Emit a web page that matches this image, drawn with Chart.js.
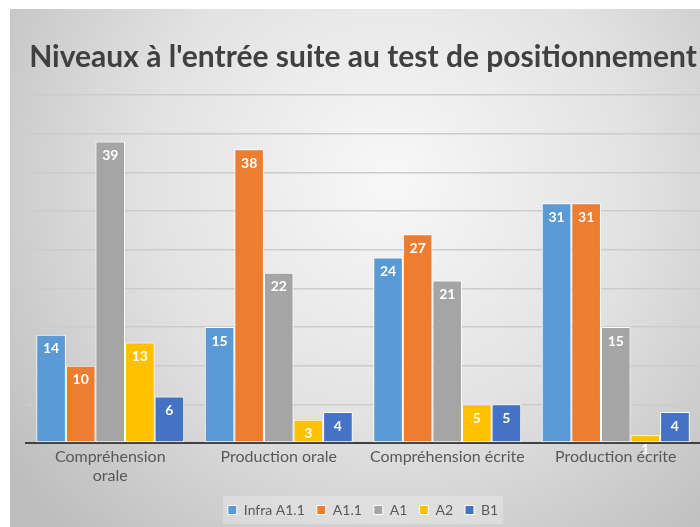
<!DOCTYPE html>
<html>
<head>
<meta charset="utf-8">
<script src="https://cdn.jsdelivr.net/npm/chart.js@4/dist/chart.umd.min.js"></script>
<style>
  html, body { margin: 0; padding: 0; background: #fff; }
  canvas { display: block; }
</style>
</head>
<body>
<canvas id="chart" width="700" height="527"></canvas>
<script>
  // data
  const categories = [["Compréhension", "orale"], "Production orale", "Compréhension écrite", "Production écrite"];
  const seriesNames = ["Infra A1.1", "A1.1", "A1", "A2", "B1"];
  const infraA11 = [14, 15, 24, 31];
  const a11 = [10, 38, 27, 31];
  const a1 = [39, 22, 21, 15];
  const a2 = [13, 3, 5, 1];
  const b1 = [6, 4, 5, 4];
  const colors = ["#5b9bd5", "#ed7d31", "#a5a5a5", "#ffc000", "#4472c4"];

  const FONT = "Lato, 'Open Sans', sans-serif";

  // grey radial background, white margin top/left
  const backgroundPlugin = {
    id: "bg",
    beforeDraw(chart) {
      var ctx = chart.ctx;
      ctx.save();
      ctx.fillStyle = "#ffffff";
      ctx.fillRect(0, 0, chart.width, chart.height);
      var g = ctx.createRadialGradient(390, 180, 10, 390, 180, 480);
      g.addColorStop(0, "#f7f7f7");
      g.addColorStop(0.5, "#e2e2e2");
      g.addColorStop(1, "#bdbdbd");
      ctx.fillStyle = g;
      ctx.fillRect(10, 9, chart.width - 10, chart.height - 9);

      // lighter box behind legend items only
      var lg = chart.legend;
      if (lg && lg.legendHitBoxes && lg.legendHitBoxes.length) {
        var boxes = lg.legendHitBoxes;
        var left = Math.min(...boxes.map((b) => b.left));
        var right = Math.max(...boxes.map((b) => b.left + b.width));
        var top = Math.min(...boxes.map((b) => b.top));
        var bottom = Math.max(...boxes.map((b) => b.top + b.height));
        ctx.fillStyle = "rgba(255,255,255,0.25)";
        ctx.fillRect(left - 5, top - 7, right - left + 10, bottom - top + 14);
      }
      ctx.restore();
    },
  };

  // value labels inside the top of each bar
  const valueLabels = {
    id: "valueLabels",
    afterDatasetsDraw(chart) {
      var ctx = chart.ctx;
      ctx.save();
      ctx.font = "bold 14px " + FONT;
      ctx.fillStyle = "#ffffff";
      ctx.textAlign = "center";
      ctx.textBaseline = "middle";
      chart.data.datasets.forEach((ds, i) => {
        var meta = chart.getDatasetMeta(i);
        meta.data.forEach((bar, j) => {
          ctx.fillText(String(ds.data[j]), bar.x, bar.y + 14);
        });
      });
      ctx.restore();
    },
  };

  var seriesValues = [infraA11, a11, a1, a2, b1];
  var datasets = seriesNames.map((name, idx) => {
    return {
      label: name,
      data: seriesValues[idx],
      backgroundColor: colors[idx],
      borderColor: "#ffffff",
      borderWidth: 1,
      borderSkipped: false,
      barPercentage: 1.0,
      categoryPercentage: 0.878,
    };
  });

  new Chart(document.getElementById("chart").getContext("2d"), {
    type: "bar",
    data: { labels: categories, datasets: datasets },
    options: {
      responsive: false,
      animation: false,
      devicePixelRatio: 1,
      layout: { padding: { left: 26, right: 0, top: 9, bottom: 0 } },
      plugins: {
        title: {
          display: true,
          text: "Niveaux à l'entrée suite au test de positionnement",
          color: "#404040",
          font: { family: FONT, size: 30, weight: "bold" },
          padding: { top: 30, bottom: 20 },
        },
        legend: {
          position: "bottom",
          labels: {
            boxWidth: 9,
            boxHeight: 9,
            color: "#595959",
            font: { family: FONT, size: 14 },
            padding: 12,
          },
        },
        tooltip: { enabled: false },
      },
      scales: {
        x: {
          grid: { display: false },
          border: { display: true, color: "#404040", width: 2 },
          ticks: {
            color: "#595959",
            font: { family: FONT, size: 16 },
            lineHeight: 1.25,
            maxRotation: 0,
            autoSkip: false,
            padding: -4,
          },
          afterFit(scale) {
            scale.height = 48;
          },
        },
        y: {
          min: 0,
          max: 45,
          ticks: { stepSize: 5, display: false },
          grid: { color: "#cccccc", lineWidth: 1.5, drawTicks: false },
          border: { display: false },
        },
      },
    },
    plugins: [backgroundPlugin, valueLabels],
  });
</script>
</body>
</html>
